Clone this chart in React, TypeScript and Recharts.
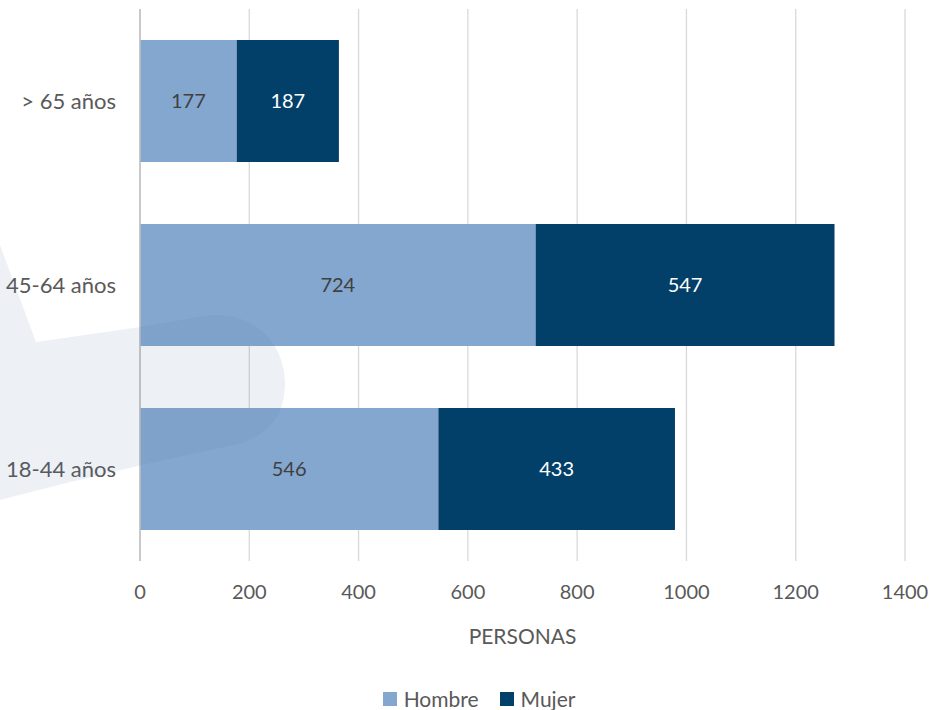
import React from "react";
import { BarChart, Bar, XAxis, YAxis, CartesianGrid, LabelList, Legend } from "recharts";

const categories = ["> 65 años", "45-64 años", "18-44 años"];
const hombre = [177, 724, 546];
const mujer = [187, 547, 433];
const xTicks = [0, 200, 400, 600, 800, 1000, 1200, 1400];
const seriesNames = ["Hombre", "Mujer"];
const seriesColors = ["#84A7CF", "#023F69"];
const axisTitle = "PERSONAS";

const data = categories.map((c, i) => ({ cat: c, Hombre: hombre[i], Mujer: mujer[i] }));

const FONT = "Lato, 'Open Sans', sans-serif";
const TEXT = "#595959";

const renderLegend = () => (
  <div
    style={{
      display: "flex",
      justifyContent: "center",
      alignItems: "center",
      height: 22,
      paddingLeft: 27,
      fontFamily: FONT,
      fontSize: 21,
      color: TEXT,
      lineHeight: "22px",
    }}
  >
    {seriesNames.map((n, i) => (
      <span
        key={n}
        style={{ display: "inline-flex", alignItems: "center", marginLeft: i === 0 ? 0 : 21 }}
      >
        <span
          style={{ width: 14, height: 14, background: seriesColors[i], marginRight: 7, display: "inline-block" }}
        />
        {n}
      </span>
    ))}
  </div>
);

export default function App() {
  return (
    <div style={{ position: "relative", width: 931, height: 710, background: "#fff" }}>
      <style>{"body{margin:0;}"}</style>
      <BarChart
        width={931}
        height={710}
        data={data}
        layout="vertical"
        margin={{ top: 9, right: 26, left: 0, bottom: 0 }}
        barCategoryGap="16.85%"
      >
        <CartesianGrid horizontal={false} stroke="#d9d9d9" strokeWidth={1.3} />
        <XAxis
          type="number"
          domain={[0, 1400]}
          ticks={xTicks}
          axisLine={false}
          tickLine={false}
          tickSize={6}
          tickMargin={18}
          height={127}
          tick={{ fill: TEXT, fontSize: 20, fontFamily: FONT }}
          label={{
            value: axisTitle,
            position: "insideTop",
            offset: 68,
            fill: TEXT,
            fontSize: 21,
            fontFamily: FONT,
          }}
        />
        <YAxis
          type="category"
          dataKey="cat"
          width={140}
          axisLine={{ stroke: "#bfbfbf", strokeWidth: 1.5 }}
          tickLine={false}
          tickSize={6}
          tickMargin={18}
          tick={{ fill: TEXT, fontSize: 22, fontFamily: FONT }}
        />
        <Legend
          verticalAlign="bottom"
          content={renderLegend}
          wrapperStyle={{ left: 0, width: 931 }}
        />
        <Bar dataKey="Hombre" name={seriesNames[0]} stackId="a" fill={seriesColors[0]} isAnimationActive={false}>
          <LabelList dataKey="Hombre" position="center" fill="#404040" fontSize={20} fontFamily={FONT} />
        </Bar>
        <Bar dataKey="Mujer" name={seriesNames[1]} stackId="a" fill={seriesColors[1]} isAnimationActive={false}>
          <LabelList dataKey="Mujer" position="center" fill="#ffffff" fontSize={20} fontFamily={FONT} />
        </Bar>
      </BarChart>
      <svg
        width={931}
        height={710}
        style={{ position: "absolute", left: 0, top: 0, pointerEvents: "none" }}
      >
        <path
          d="M-20,190 L0,245 L36,342 L140,327 L205,316 C255,310 286,345 285,385 C284,422 262,440 225,447 C170,458 100,474 0,500 L-20,505 Z"
          fill="rgb(80,120,170)"
          fillOpacity={0.1}
        />
      </svg>
    </div>
  );
}
